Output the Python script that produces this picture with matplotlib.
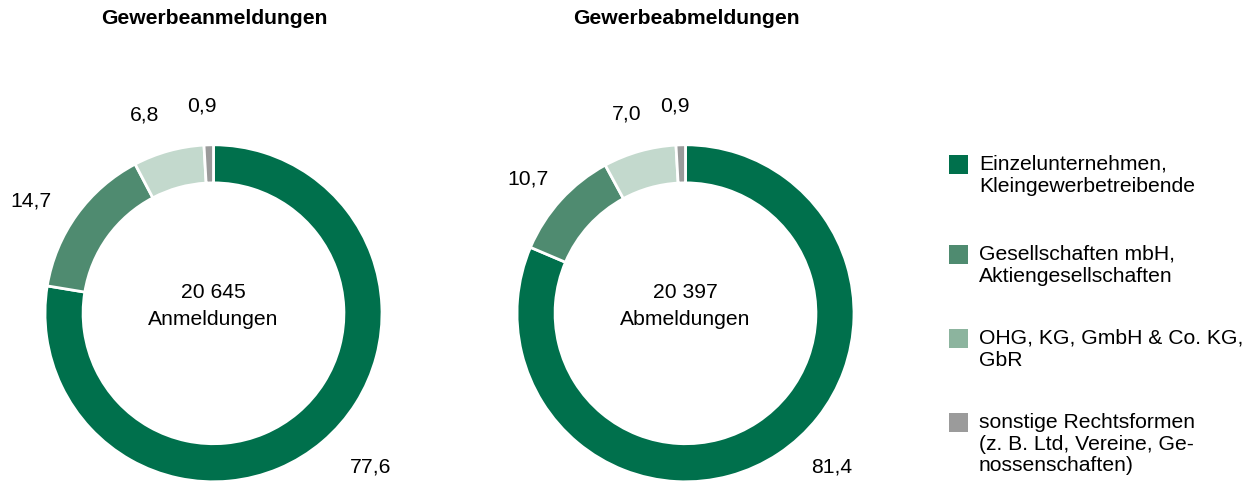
import numpy as np
import matplotlib
matplotlib.use("Agg")
import matplotlib.pyplot as plt
from matplotlib.patches import Rectangle

plt.rcParams['font.family'] = ['Liberation Sans', 'DejaVu Sans']

titles = ["Gewerbeanmeldungen", "Gewerbeabmeldungen"]
totals = ["20 645", "20 397"]
center_words = ["Anmeldungen", "Abmeldungen"]
anmeldungen = [77.6, 14.7, 6.8, 0.9]
abmeldungen = [81.4, 10.7, 7.0, 0.9]
categories = ["Einzelunternehmen,\nKleingewerbetreibende",
              "Gesellschaften mbH,\nAktiengesellschaften",
              "OHG, KG, GmbH & Co. KG,\nGbR",
              "sonstige Rechtsformen\n(z. B. Ltd, Vereine, Ge-\nnossenschaften)"]

slice_colors = ["#00704c", "#4f8b70", "#c3d9cd", "#9b9b9b"]
legend_colors = ["#00704c", "#4f8b70", "#8cb49e", "#9b9b9b"]

W, H = 1258, 486
fig = plt.figure(figsize=(W / 100, H / 100), dpi=100)

def fx(x):
    return x / W

def fy(y):
    return 1 - y / H

R = 168.5
centers = [(213.5, 313.3), (685.5, 313.3)]
datasets = [anmeldungen, abmeldungen]
# label placement: (radius factor, angular shift in degrees from wedge middle)
label_r = [[1.305, 1.27, 1.245, 1.235], [1.26, 1.225, 1.235, 1.23]]
label_shift = [[5.4, 4.1, 3.7, 1.5], [10.0, 1.85, 0.6, 1.3]]
FS = 15.2

for i, (cx, cy) in enumerate(centers):
    ax = fig.add_axes([fx(cx - R), fy(cy + R), 2 * R / W, 2 * R / H])
    vals = datasets[i]
    wedges, _ = ax.pie(vals, colors=slice_colors, startangle=90, counterclock=False,
                       radius=1.0, wedgeprops=dict(width=0.226, edgecolor='white', linewidth=2))
    ax.set_xlim(-1, 1)
    ax.set_ylim(-1, 1)
    ax.set_aspect('equal')
    ax.axis('off')
    for j, (w, v) in enumerate(zip(wedges, vals)):
        ang = np.deg2rad((w.theta1 + w.theta2) / 2 + label_shift[i][j])
        r = label_r[i][j]
        ax.text(r * np.cos(ang), r * np.sin(ang), f"{v:.1f}".replace('.', ','),
                ha='center', va='center', fontsize=FS, clip_on=False)
    ax.text(0, 0.125, totals[i], ha='center', va='center', fontsize=FS)
    ax.text(0, -0.035, center_words[i], ha='center', va='center', fontsize=FS)
    fig.text(fx(cx + 1), fy(18), titles[i], ha='center', va='center', fontsize=15.2, fontweight='bold')

first_line = [165, 255, 339, 423]
for k, (lab, col) in enumerate(zip(categories, legend_colors)):
    yc = first_line[k]
    fig.patches.append(Rectangle((fx(949), fy(yc + 9)), 19 / W, 19 / H, transform=fig.transFigure,
                                 facecolor=col, edgecolor='none'))
    fig.text(fx(979), fy(yc - 10), lab, ha='left', va='top', fontsize=FS, linespacing=1.17)

fig.savefig("out.png", dpi=100)
